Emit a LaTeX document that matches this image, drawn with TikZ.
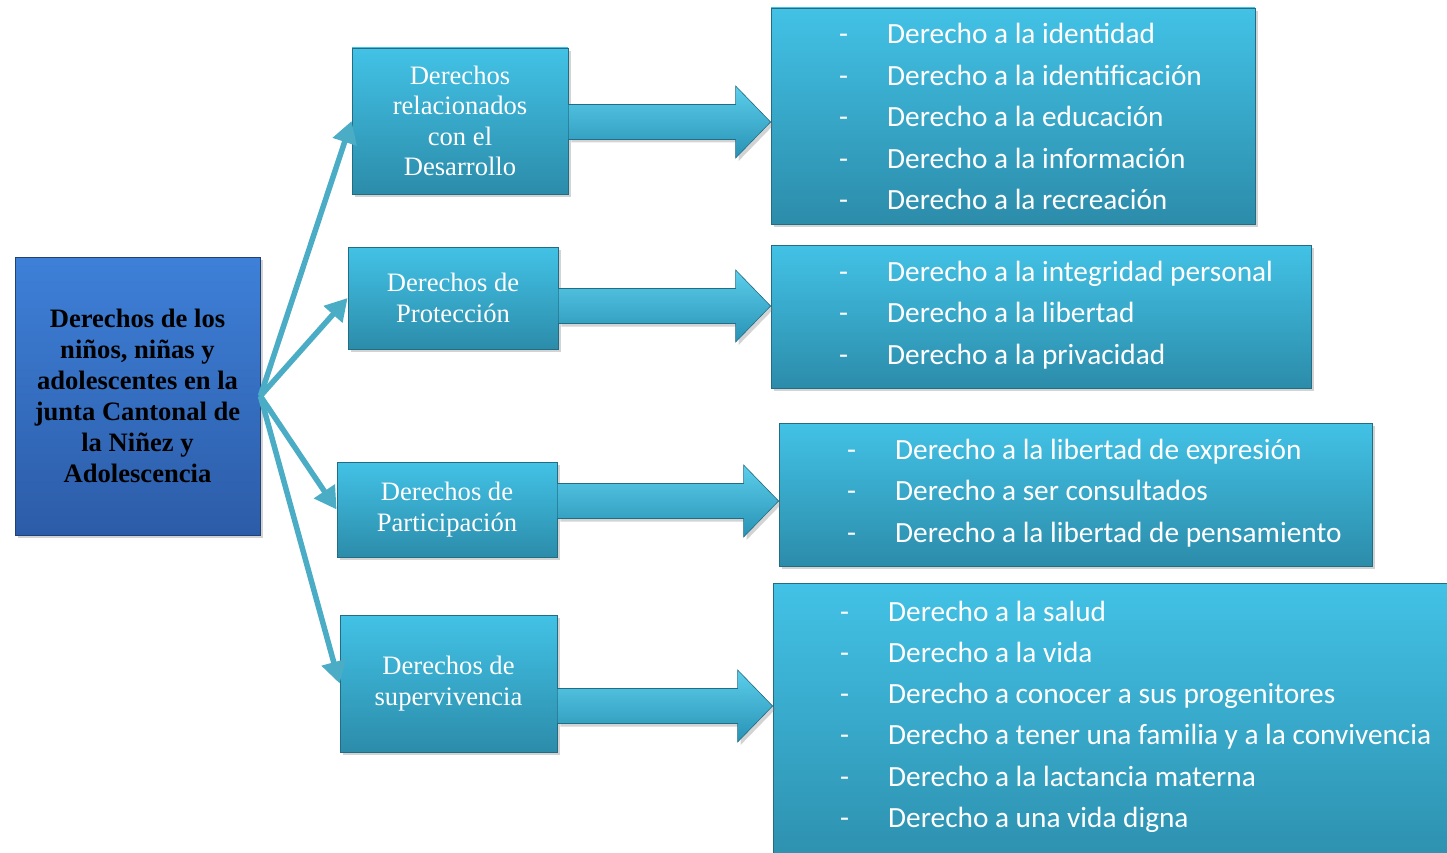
\documentclass[tikz,border=0pt]{standalone}
\usepackage{fontspec}
\setmainfont{Liberation Serif}
\newfontfamily\calib{Carlito}
\usetikzlibrary{calc,shadows,arrows.meta}
\definecolor{cyantop}{RGB}{66,194,230}
\definecolor{cyanbot}{RGB}{44,140,170}
\definecolor{cyanedge}{RGB}{34,108,132}
\definecolor{bluetop}{RGB}{62,128,216}
\definecolor{bluebot}{RGB}{44,92,168}
\definecolor{blueedge}{RGB}{34,66,118}
\definecolor{linkcol}{RGB}{75,172,198}
\definecolor{arrtop}{RGB}{92,206,236}
\definecolor{arrbot}{RGB}{40,146,180}
\newcommand\blockarr[2]{%
  \path[blockarrow] ($(#1)+(0,-17.5)$) -- ($(#2)+(-35,-17.5)$) -- ($(#2)+(-35,-36)$)
    -- (#2) -- ($(#2)+(-35,36)$) -- ($(#2)+(-35,17.5)$) -- ($(#1)+(0,17.5)$) -- cycle;}
\begin{document}
\begin{tikzpicture}[x=1pt,y=-1pt,
  shadowed/.style={drop shadow={opacity=0.35,shadow xshift=3pt,shadow yshift=-3pt}},
  box/.style={rectangle, inner sep=0pt, draw=cyanedge, line width=0.8pt,
    top color=cyantop, bottom color=cyanbot, shadowed},
  midbox/.style={box, text=white, align=center, font=\fontsize{26.6}{30.5}\selectfont},
  mainbox/.style={rectangle, inner sep=0pt, draw=blueedge, line width=0.8pt,
    top color=bluetop, bottom color=bluebot, shadowed, align=center,
    font=\bfseries\fontsize{26.6}{31}\selectfont, text=black},
  item/.style={anchor=base west, inner sep=0pt, text=white, font=\calib\fontsize{29.3}{30}\selectfont},
  link/.style={draw=linkcol, line width=5.5pt, -{Triangle[length=22pt,width=24pt]}},
  blockarrow/.style={draw=cyanedge, line width=0.6pt, top color=arrtop, bottom color=arrbot, shadowed, line join=miter}
]
\useasboundingbox (0,0) rectangle (1447,853);

% main box
\node[mainbox, minimum width=245pt, minimum height=278pt] (M) at (137.5,396)
  {Derechos de los\\niños, niñas y\\adolescentes en la\\junta Cantonal de\\la Niñez y\\Adolescencia};

% middle boxes
\node[midbox, minimum width=216pt, minimum height=146pt] (A) at (460,121)
  {Derechos\\relacionados\\con el\\Desarrollo};
\node[midbox, minimum width=210pt, minimum height=102pt] (B) at (453,298)
  {Derechos de\\Protección};
\node[midbox, minimum width=220pt, minimum height=95pt] (C) at (447,509.5)
  {Derechos de\\Participación};
\node[midbox, minimum width=217pt, minimum height=137pt] (D) at (448.5,683.5)
  {Derechos de\\supervivencia};

% right boxes
\node[box, minimum width=484pt, minimum height=216pt] (R1) at (1013,116) {};
\node[box, minimum width=540pt, minimum height=143pt] (R2) at (1041,316.5) {};
\node[box, minimum width=593pt, minimum height=143pt] (R3) at (1075.5,494.5) {};
\node[box, minimum width=700pt, minimum height=300pt] (R4) at (1123,733) {};

% thin links
\draw[link] (M.east) -- (A.west);
\draw[link] (M.east) -- (B.west);
\draw[link] (M.east) -- (C.west);
\draw[link] (M.east) -- (D.west);

% block arrows
\coordinate (a1) at (A.east |- 0,122);
\coordinate (t1) at (R1.west |- 0,122);
\coordinate (a2) at (B.east |- 0,306);
\coordinate (t2) at (R2.west |- 0,306);
\coordinate (a3) at (C.east |- 0,501);
\coordinate (t3) at (R3.west |- 0,501);
\coordinate (a4) at (D.east |- 0,706);
\coordinate (t4) at (R4.west |- 0,706);
\blockarr{a1}{t1}
\blockarr{a2}{t2}
\blockarr{a3}{t3}
\blockarr{a4}{t4}

% list items
\newcommand\dashitem[1]{\makebox[48pt][l]{-}#1}
\node[item] (r1a) at (839,44) {\dashitem{Derecho a la identidad}};
\node[item] (r1b) at (839,86) {\dashitem{Derecho a la identificación}};
\node[item] (r1c) at (839,127) {\dashitem{Derecho a la educación}};
\node[item] (r1d) at (839,168) {\dashitem{Derecho a la información}};
\node[item] (r1e) at (839,209) {\dashitem{Derecho a la recreación}};

\node[item] (r2a) at (839,281) {\dashitem{Derecho a la integridad personal}};
\node[item] (r2b) at (839,322) {\dashitem{Derecho a la libertad}};
\node[item] (r2c) at (839,364) {\dashitem{Derecho a la privacidad}};

\node[item] (r3a) at (847,459) {\dashitem{Derecho a la libertad de expresión}};
\node[item] (r3b) at (847,500) {\dashitem{Derecho a ser consultados}};
\node[item] (r3c) at (847,542) {\dashitem{Derecho a la libertad de pensamiento}};

\node[item] (r4a) at (840,621) {\dashitem{Derecho a la salud}};
\node[item] (r4b) at (840,662) {\dashitem{Derecho a la vida}};
\node[item] (r4c) at (840,703) {\dashitem{Derecho a conocer a sus progenitores}};
\node[item] (r4d) at (840,744) {\dashitem{Derecho a tener una familia y a la convivencia}};
\node[item] (r4e) at (840,786) {\dashitem{Derecho a la lactancia materna}};
\node[item] (r4f) at (840,827) {\dashitem{Derecho a una vida digna}};
\end{tikzpicture}
\end{document}
